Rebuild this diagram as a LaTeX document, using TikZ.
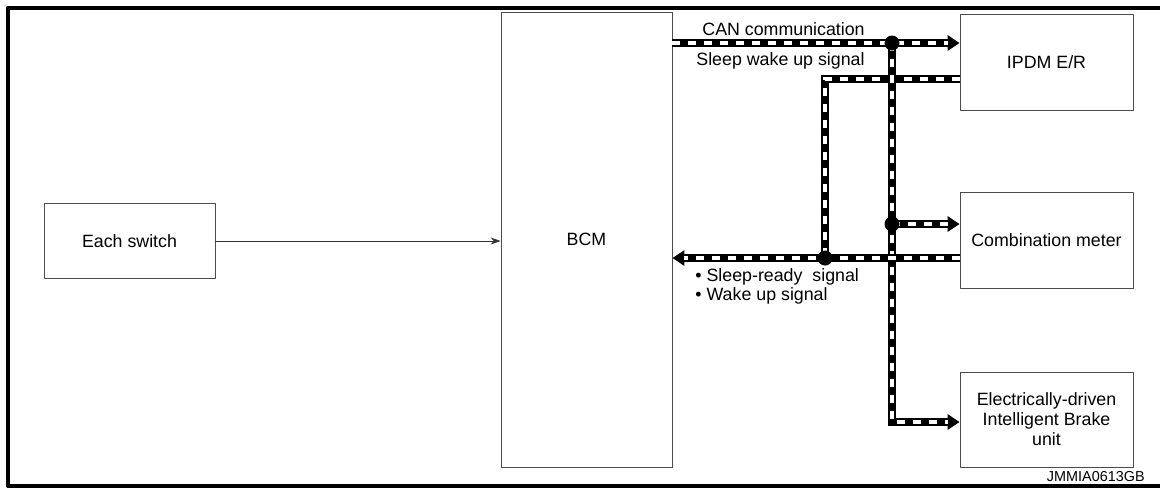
\documentclass[tikz,border=0pt]{standalone}
\usepackage{fontspec}
\setmainfont{Liberation Sans}
\usetikzlibrary{arrows.meta}
\begin{document}
\begin{tikzpicture}[x=0.5pt,y=-0.5pt,>=stealth, font=\fontsize{8.9}{10}\selectfont, line join=round,
	box/.style={draw=black!70, line width=0.4pt, minimum width=85.5pt, inner sep=0pt, align=center},
	bus/.style={line width=4pt, line join=miter, postaction={draw=white, line width=1.6pt, dash pattern=on 4pt off 4pt, -, shorten >=#1}},
	bus/.default=0pt,
	tip/.style={-{Triangle[length=6pt,width=7.5pt]}},
	dot/.style={circle, fill=black, inner sep=0pt, minimum size=7.5pt},
	lbl/.style={anchor=base west, inner sep=0pt}]
	\useasboundingbox (0,0) rectangle (1160,494);
	\def\xa{892} \def\xb{825} % bus lines
	% frame
	\draw[line width=2pt] (1160,7.5) -- (8,7.5) -- (8,486) -- (1160,486);
	% units
	\node[box, minimum height=37.5pt] (sw) at (129.5,241) {Each switch};
	\node[box, minimum height=227.5pt] (bcm) at (586.5,239.5) {BCM};
	\node[box, minimum width=86.5pt, minimum height=48pt] (ipdm) at (1046.5,62) {IPDM E/R};
	\node[box, minimum width=86.5pt, minimum height=48pt] (meter) at (1046.5,240) {Combination meter};
	\node[box, minimum width=86.5pt, minimum height=47.5pt] (brake) at (1046.5,419.5) {Electrically-driven\\Intelligent Brake\\unit};
	% junctions
	\coordinate (jcan) at (\xa,43);
	\coordinate (jmeter) at (\xa,224);
	\coordinate (jbrake) at (\xa,422);
	\coordinate (jwake) at (\xb,79);
	\coordinate (jsleep) at (\xb,258);
	\draw[black!80, line width=0.4pt, -{Stealth[length=5pt,width=3.5pt]}] (sw) -- (sw -| bcm.west);
	\draw[bus=6pt, tip] (bcm.east |- jcan) -- (jcan -| ipdm.west);
	\draw[bus] (ipdm.west |- jwake) -- (jwake) -- (jsleep);
	\draw[bus=6pt, tip] (jcan) -- (jbrake) -- (jbrake -| brake.west);
	\draw[bus=6pt, tip] (jmeter) -- (jmeter -| meter.west);
	\draw[bus=6pt, tip] (meter.west |- jsleep) -- (bcm.east |- jsleep);
	\node[dot] (dcan) at (jcan) {};
	\node[dot] (dmeter) at (jmeter) {};
	\node[dot] (dsleep) at (jsleep) {};
	% labels
	\node[lbl] (lcan) at (702,35) {CAN communication};
	\node[lbl] (lwake) at (696,65) {Sleep wake up signal};
	\node[lbl, align=left, font=\fontsize{8.9}{8}\selectfont] (lsleep) at (695,300) {• Sleep-ready\ \ signal\\• Wake up signal};
	\node[anchor=base east, inner sep=0pt, font=\fontsize{7.2}{8}\selectfont] (code) at (1145,481) {JMMIA0613GB};
\end{tikzpicture}
\end{document}
